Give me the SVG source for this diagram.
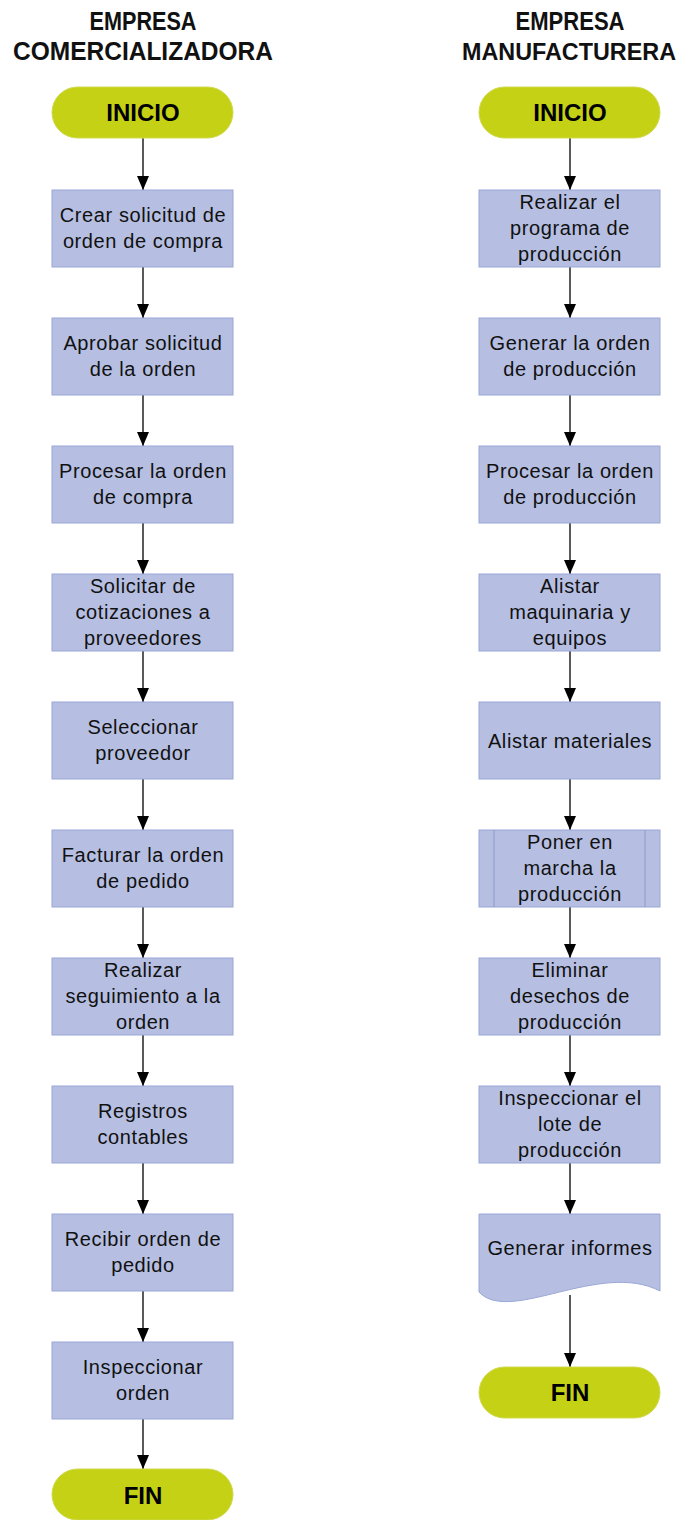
<svg xmlns="http://www.w3.org/2000/svg" width="684" height="1520" viewBox="0 0 684 1520">
<defs>
<style>
.hdr{font-family:"Liberation Sans",Arial,sans-serif;font-weight:bold;font-size:25px;fill:#111;text-anchor:middle}
.term{fill:#C4D114;stroke:#CFD94E;stroke-width:1}
.tt{font-family:"Liberation Sans",Arial,sans-serif;font-weight:bold;font-size:24px;fill:#000;text-anchor:middle}
.box{fill:#B6BFE2;stroke:#9AA6D6;stroke-width:1}
.bt{font-family:"Liberation Sans",Arial,sans-serif;font-size:20px;fill:#111;text-anchor:middle;letter-spacing:0.6px}
.con{stroke:#000;stroke-width:1.3;fill:none;marker-end:url(#ah)}
</style>
<marker id="ah" markerUnits="userSpaceOnUse" markerWidth="14" markerHeight="12" refX="14" refY="6" orient="auto" viewBox="0 0 14 12">
<path d="M0,0 L14,6 L0,12 Z" fill="#000"/>
</marker>
</defs>

<g id="headers">
<text class="hdr" x="143" y="30" textLength="107" lengthAdjust="spacingAndGlyphs">EMPRESA</text>
<text class="hdr" x="143" y="60" textLength="260" lengthAdjust="spacingAndGlyphs">COMERCIALIZADORA</text>
<text class="hdr" x="570" y="30" textLength="109" lengthAdjust="spacingAndGlyphs">EMPRESA</text>
<text class="hdr" x="569" y="60" style="font-size:23px" textLength="214" lengthAdjust="spacingAndGlyphs">MANUFACTURERA</text>
</g>

<g id="connectors">
<line class="con" x1="143" y1="138" x2="143" y2="190"/>
<line class="con" x1="143" y1="267" x2="143" y2="318"/>
<line class="con" x1="143" y1="395" x2="143" y2="446"/>
<line class="con" x1="143" y1="523" x2="143" y2="574"/>
<line class="con" x1="143" y1="651" x2="143" y2="702"/>
<line class="con" x1="143" y1="779" x2="143" y2="830"/>
<line class="con" x1="143" y1="907" x2="143" y2="958"/>
<line class="con" x1="143" y1="1035" x2="143" y2="1086"/>
<line class="con" x1="143" y1="1163" x2="143" y2="1214"/>
<line class="con" x1="143" y1="1291" x2="143" y2="1342"/>
<line class="con" x1="143" y1="1419" x2="143" y2="1469"/>
<line class="con" x1="570" y1="138" x2="570" y2="190"/>
<line class="con" x1="570" y1="267" x2="570" y2="318"/>
<line class="con" x1="570" y1="395" x2="570" y2="446"/>
<line class="con" x1="570" y1="523" x2="570" y2="574"/>
<line class="con" x1="570" y1="651" x2="570" y2="702"/>
<line class="con" x1="570" y1="779" x2="570" y2="830"/>
<line class="con" x1="570" y1="907" x2="570" y2="958"/>
<line class="con" x1="570" y1="1035" x2="570" y2="1086"/>
<line class="con" x1="570" y1="1163" x2="570" y2="1214"/>
<line class="con" x1="570" y1="1295" x2="570" y2="1367"/>
</g>

<g id="inicio-left"><rect class="term" x="52" y="87" width="181" height="51" rx="25.5"/><text class="tt" x="143" y="121">INICIO</text></g>
<g id="l1"><rect class="box" x="52" y="190" width="181" height="77"/><text class="bt" x="143" y="222">Crear solicitud de</text><text class="bt" x="143" y="248">orden de compra</text></g>
<g id="l2"><rect class="box" x="52" y="318" width="181" height="77"/><text class="bt" x="143" y="350">Aprobar solicitud</text><text class="bt" x="143" y="376">de la orden</text></g>
<g id="l3"><rect class="box" x="52" y="446" width="181" height="77"/><text class="bt" x="143" y="478">Procesar la orden</text><text class="bt" x="143" y="504">de compra</text></g>
<g id="l4"><rect class="box" x="52" y="574" width="181" height="77"/><text class="bt" x="143" y="593">Solicitar de</text><text class="bt" x="143" y="619">cotizaciones a</text><text class="bt" x="143" y="645">proveedores</text></g>
<g id="l5"><rect class="box" x="52" y="702" width="181" height="77"/><text class="bt" x="143" y="734">Seleccionar</text><text class="bt" x="143" y="760">proveedor</text></g>
<g id="l6"><rect class="box" x="52" y="830" width="181" height="77"/><text class="bt" x="143" y="862">Facturar la orden</text><text class="bt" x="143" y="888">de pedido</text></g>
<g id="l7"><rect class="box" x="52" y="958" width="181" height="77"/><text class="bt" x="143" y="977">Realizar</text><text class="bt" x="143" y="1003">seguimiento a la</text><text class="bt" x="143" y="1029">orden</text></g>
<g id="l8"><rect class="box" x="52" y="1086" width="181" height="77"/><text class="bt" x="143" y="1118">Registros</text><text class="bt" x="143" y="1144">contables</text></g>
<g id="l9"><rect class="box" x="52" y="1214" width="181" height="77"/><text class="bt" x="143" y="1246">Recibir orden de</text><text class="bt" x="143" y="1272">pedido</text></g>
<g id="l10"><rect class="box" x="52" y="1342" width="181" height="77"/><text class="bt" x="143" y="1374">Inspeccionar</text><text class="bt" x="143" y="1400">orden</text></g>
<g id="fin-left"><rect class="term" x="52" y="1469" width="181" height="51" rx="25.5"/><text class="tt" x="143" y="1504">FIN</text></g>

<g id="inicio-right"><rect class="term" x="479" y="87" width="181" height="51" rx="25.5"/><text class="tt" x="570" y="121">INICIO</text></g>
<g id="r1"><rect class="box" x="479" y="190" width="181" height="77"/><text class="bt" x="570" y="209">Realizar el</text><text class="bt" x="570" y="235">programa de</text><text class="bt" x="570" y="261">producción</text></g>
<g id="r2"><rect class="box" x="479" y="318" width="181" height="77"/><text class="bt" x="570" y="350">Generar la orden</text><text class="bt" x="570" y="376">de producción</text></g>
<g id="r3"><rect class="box" x="479" y="446" width="181" height="77"/><text class="bt" x="570" y="478">Procesar la orden</text><text class="bt" x="570" y="504">de producción</text></g>
<g id="r4"><rect class="box" x="479" y="574" width="181" height="77"/><text class="bt" x="570" y="593">Alistar</text><text class="bt" x="570" y="619">maquinaria y</text><text class="bt" x="570" y="645">equipos</text></g>
<g id="r5"><rect class="box" x="479" y="702" width="181" height="77"/><text class="bt" x="570" y="748">Alistar materiales</text></g>
<g id="r6"><rect class="box" x="479" y="830" width="181" height="77"/><line x1="494" y1="830" x2="494" y2="907" stroke="#8C98CC" stroke-width="1"/><line x1="645" y1="830" x2="645" y2="907" stroke="#8C98CC" stroke-width="1"/><text class="bt" x="570" y="849">Poner en</text><text class="bt" x="570" y="875">marcha la</text><text class="bt" x="570" y="901">producción</text></g>
<g id="r7"><rect class="box" x="479" y="958" width="181" height="77"/><text class="bt" x="570" y="977">Eliminar</text><text class="bt" x="570" y="1003">desechos de</text><text class="bt" x="570" y="1029">producción</text></g>
<g id="r8"><rect class="box" x="479" y="1086" width="181" height="77"/><text class="bt" x="570" y="1105">Inspeccionar el</text><text class="bt" x="570" y="1131">lote de</text><text class="bt" x="570" y="1157">producción</text></g>
<g id="r9"><path class="box" d="M479,1214 H660 V1291 C600,1260 510,1325 479,1292 Z"/><text class="bt" x="570" y="1255">Generar informes</text></g>
<g id="fin-right"><rect class="term" x="479" y="1367" width="181" height="51" rx="25.5"/><text class="tt" x="570" y="1401">FIN</text></g>
</svg>
